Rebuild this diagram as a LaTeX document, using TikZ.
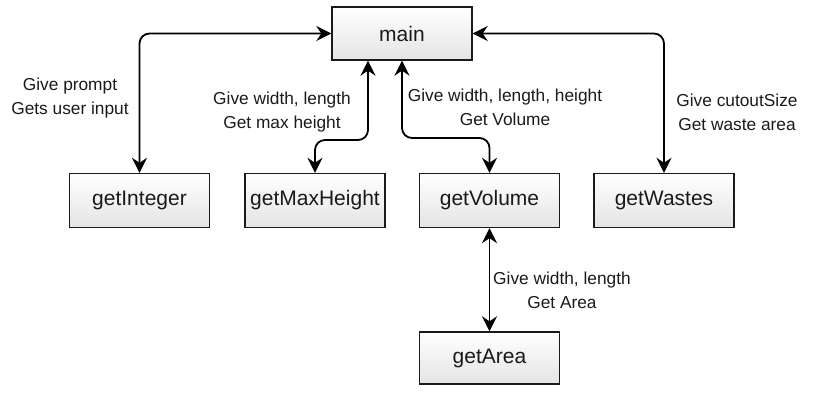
\documentclass[tikz,border=0pt]{standalone}
\usepackage{fontspec}
\setmainfont{Liberation Sans}
\usetikzlibrary{arrows.meta}
\definecolor{boxline}{HTML}{1A1A1A}
\definecolor{boxbot}{HTML}{E4E4E4}
\definecolor{txt}{HTML}{1A1A1A}
\tikzset{
  fbox/.style={draw=boxline, line width=1.4pt, top color=white, bottom color=boxbot,
    minimum width=140pt, minimum height=54pt, inner sep=0pt,
    font=\fontsize{21}{25}\selectfont, text=txt},
  lbl/.style={align=center, font=\fontsize{17.3}{24}\selectfont, text=txt, inner sep=0pt},
  link/.style={line width=1.8pt, rounded corners=10pt,
    {Stealth[length=15pt,width=15pt,inset=5pt]}-{Stealth[length=15pt,width=15pt,inset=5pt]}}
}
\begin{document}
\begin{tikzpicture}[x=1pt,y=-1pt]
\useasboundingbox (0,0) rectangle (822,406);
\node[fbox, minimum height=53pt] (main) at (402,33.5) {main};
\node[fbox] (int) at (139.5,200.5) {getInteger};
\node[fbox] (mh) at (315,200.5) {getMaxHeight};
\node[fbox] (vol) at (489.5,200.5) {getVolume};
\node[fbox] (was) at (664,200.5) {getWastes};
\node[fbox, minimum height=52pt] (area) at (489.5,358) {getArea};

\coordinate (mhs) at ([xshift=-34pt]main.south);
\draw[link] (main.west) -| (int.north);
\draw[link] (mhs) -- (mhs |- 0,140) -| (mh.north);
\draw[link] (main.south) -- (main.south |- 0,138) -| (vol.north);
\draw[link] (main.east) -| (was.north);
\draw[link] (vol.south) -- (area.north);

\node[lbl] (l1) at (70,98) {Give prompt\\Gets user input};
\node[lbl] (l2) at (282,112) {Give width, length\\Get max height};
\node[lbl] (l3) at (505,107) {Give width, length, height\\Get Volume};
\node[lbl] (l4) at (737,112) {Give cutoutSize\\Get waste area};
\node[lbl] (l5) at (562,290) {Give width, length\\Get Area};
\end{tikzpicture}
\end{document}
